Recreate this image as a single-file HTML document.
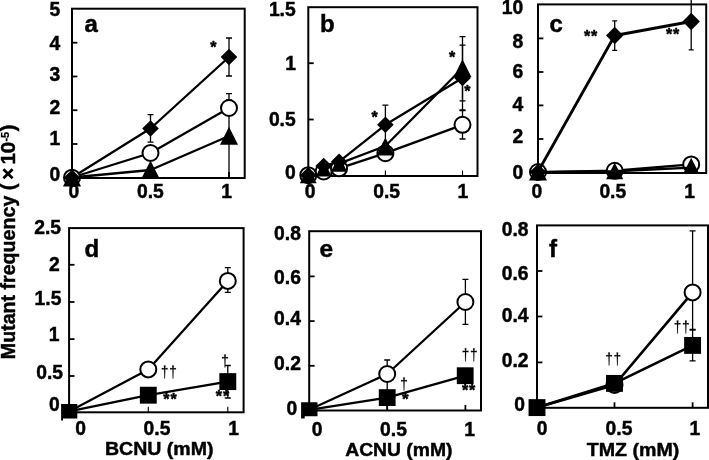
<!DOCTYPE html>
<html><head><meta charset="utf-8"><title>Mutant frequency</title>
<style>
html,body{margin:0;padding:0;background:#fff;}
body{width:709px;height:460px;overflow:hidden;font-family:"Liberation Sans",sans-serif;}
svg{display:block;transform:translateZ(0);will-change:transform;}
svg text{font-family:"Liberation Sans",sans-serif;fill:#000;}
</style></head><body>
<svg width="709" height="460" viewBox="0 0 709 460">
<rect width="709" height="460" fill="#fff"/>
<rect x="72" y="8.7" width="172.7" height="169.3" fill="none" stroke="#000" stroke-width="2"/>
<line x1="72" y1="42.7" x2="77.4" y2="42.7" stroke="#000" stroke-width="1.8"/>
<line x1="72" y1="76.5" x2="77.4" y2="76.5" stroke="#000" stroke-width="1.8"/>
<line x1="72" y1="110.2" x2="77.4" y2="110.2" stroke="#000" stroke-width="1.8"/>
<line x1="72" y1="144" x2="77.4" y2="144" stroke="#000" stroke-width="1.8"/>
<line x1="150.5" y1="178" x2="150.5" y2="172" stroke="#000" stroke-width="1.8"/>
<line x1="229" y1="178" x2="229" y2="172" stroke="#000" stroke-width="1.8"/>
<path d="M150.5 114.6V142.2M147.5 114.6H153.5M147.5 142.2H153.5" stroke="#000" stroke-width="1.3" fill="none"/>
<path d="M229 38V76M226.0 38H232.0M226.0 76H232.0" stroke="#000" stroke-width="1.3" fill="none"/>
<path d="M229 93.7V100M226.0 93.7H232.0M226.0 100H232.0" stroke="#000" stroke-width="1.3" fill="none"/>
<path d="M229 100V178" stroke="#000" stroke-width="1.3"/>
<polyline points="72,177.5 150.5,128.5 229,57" fill="none" stroke="#000" stroke-width="2.3" stroke-linejoin="round"/>
<polyline points="72,177.5 150.5,153 229,108" fill="none" stroke="#000" stroke-width="2.3" stroke-linejoin="round"/>
<polyline points="72,177.5 150.5,170 229,136" fill="none" stroke="#000" stroke-width="2.3" stroke-linejoin="round"/>
<circle cx="72" cy="177.7" r="8.0" fill="#fff" stroke="#000" stroke-width="2"/>
<path d="M72 169.4L81.1 186.6L62.9 186.6Z" fill="#000"/>
<path d="M72 169.39999999999998L80.3 177.7L72 186.0L63.7 177.7Z" fill="#000"/>
<path d="M150.5 160.60000000000002L159.8 179.0L141.2 179.0Z" fill="#000"/>
<circle cx="150.5" cy="153" r="8.0" fill="#fff" stroke="#000" stroke-width="2"/>
<path d="M150.5 120.2L158.8 128.5L150.5 136.8L142.2 128.5Z" fill="#000"/>
<path d="M229 126.69999999999999L238 144.7L220 144.7Z" fill="#000"/>
<circle cx="229" cy="108" r="8.0" fill="#fff" stroke="#000" stroke-width="2"/>
<path d="M229 48.7L237.3 57L229 65.3L220.7 57Z" fill="#000"/>
<text x="60.2" y="16.3" font-size="19.3" text-anchor="end" font-weight="bold" stroke="#000" stroke-width="0.45" >5</text>
<text x="60.2" y="50" font-size="19.3" text-anchor="end" font-weight="bold" stroke="#000" stroke-width="0.45" >4</text>
<text x="60.2" y="81" font-size="19.3" text-anchor="end" font-weight="bold" stroke="#000" stroke-width="0.45" >3</text>
<text x="60.2" y="114.2" font-size="19.3" text-anchor="end" font-weight="bold" stroke="#000" stroke-width="0.45" >2</text>
<text x="60.2" y="145.2" font-size="19.3" text-anchor="end" font-weight="bold" stroke="#000" stroke-width="0.45" >1</text>
<text x="60.2" y="180.6" font-size="19.3" text-anchor="end" font-weight="bold" stroke="#000" stroke-width="0.45" >0</text>
<text x="73.8" y="197.9" font-size="19.3" text-anchor="middle" font-weight="bold" stroke="#000" stroke-width="0.45" >0</text>
<text x="150.4" y="197.9" font-size="19.3" text-anchor="middle" font-weight="bold" stroke="#000" stroke-width="0.45" >0.5</text>
<text x="226.5" y="197.9" font-size="19.3" text-anchor="middle" font-weight="bold" stroke="#000" stroke-width="0.45" >1</text>
<text x="84.5" y="32" font-size="24" text-anchor="start" font-weight="bold" stroke="#000" stroke-width="0.45" >a</text>
<text x="213.3" y="53" font-size="16" text-anchor="middle" font-weight="bold" stroke="#000" stroke-width="0.45" >*</text>
<rect x="308.3" y="7.2" width="169.2" height="168.8" fill="none" stroke="#000" stroke-width="2"/>
<line x1="308.3" y1="63.2" x2="313.7" y2="63.2" stroke="#000" stroke-width="1.8"/>
<line x1="308.3" y1="119.5" x2="313.7" y2="119.5" stroke="#000" stroke-width="1.8"/>
<line x1="385.4" y1="176" x2="385.4" y2="170.5" stroke="#000" stroke-width="1.1"/>
<line x1="462.5" y1="176" x2="462.5" y2="170.5" stroke="#000" stroke-width="1.1"/>
<path d="M385.4 105.2V144M382.4 105.2H388.4M382.4 144H388.4" stroke="#000" stroke-width="1.3" fill="none"/>
<path d="M462.5 36.6V100.8M459.5 36.6H465.5M459.5 100.8H465.5" stroke="#000" stroke-width="1.3" fill="none"/>
<path d="M462.5 45.2V110M459.5 45.2H465.5M459.5 110H465.5" stroke="#000" stroke-width="1.3" fill="none"/>
<path d="M462.5 110.6V139M459.5 110.6H465.5M459.5 139H465.5" stroke="#000" stroke-width="1.3" fill="none"/>
<polyline points="308.3,175 323.7,166 339.1,161.7 385.4,124.8 462.5,78" fill="none" stroke="#000" stroke-width="2.3" stroke-linejoin="round"/>
<polyline points="308.3,175 323.7,171.5 339.1,168.3 385.4,153.2 462.5,124.8" fill="none" stroke="#000" stroke-width="2.3" stroke-linejoin="round"/>
<polyline points="308.3,175 323.7,168.6 339.1,163.6 385.4,146 462.5,68" fill="none" stroke="#000" stroke-width="2.3" stroke-linejoin="round"/>
<circle cx="308.3" cy="175.2" r="8.0" fill="#fff" stroke="#000" stroke-width="2"/>
<path d="M308.3 166.8L316.7 183.2L299.90000000000003 183.2Z" fill="#000"/>
<path d="M308.3 166.89999999999998L316.6 175.2L308.3 183.5L300.0 175.2Z" fill="#000"/>
<circle cx="323.7" cy="171.5" r="8.0" fill="#fff" stroke="#000" stroke-width="2"/>
<path d="M323.7 160.6L331.7 176.6L315.7 176.6Z" fill="#000"/>
<path d="M323.7 157.7L332.0 166L323.7 174.3L315.4 166Z" fill="#000"/>
<circle cx="339.1" cy="168.3" r="8.0" fill="#fff" stroke="#000" stroke-width="2"/>
<path d="M339.1 155.4L347.3 171.79999999999998L330.90000000000003 171.79999999999998Z" fill="#000"/>
<path d="M339.1 153.39999999999998L347.40000000000003 161.7L339.1 170.0L330.8 161.7Z" fill="#000"/>
<circle cx="385.4" cy="153.2" r="8.0" fill="#fff" stroke="#000" stroke-width="2"/>
<path d="M385.4 137.5L394.4 155.5L376.4 155.5Z" fill="#000"/>
<path d="M385.4 116.5L393.7 124.8L385.4 133.1L377.09999999999997 124.8Z" fill="#000"/>
<circle cx="462.5" cy="124.8" r="8.0" fill="#fff" stroke="#000" stroke-width="2"/>
<path d="M462.5 59.3L471.5 77.3L453.5 77.3Z" fill="#000"/>
<path d="M462.5 69.7L470.8 78L462.5 86.3L454.2 78Z" fill="#000"/>
<text x="295.7" y="15.6" font-size="19.3" text-anchor="end" font-weight="bold" stroke="#000" stroke-width="0.45" >1.5</text>
<text x="296" y="70.2" font-size="19.3" text-anchor="end" font-weight="bold" stroke="#000" stroke-width="0.45" >1</text>
<text x="295.7" y="125.6" font-size="19.3" text-anchor="end" font-weight="bold" stroke="#000" stroke-width="0.45" >0.5</text>
<text x="295.7" y="178.6" font-size="19.3" text-anchor="end" font-weight="bold" stroke="#000" stroke-width="0.45" >0</text>
<text x="310" y="197.7" font-size="19.3" text-anchor="middle" font-weight="bold" stroke="#000" stroke-width="0.45" >0</text>
<text x="386.7" y="197.7" font-size="19.3" text-anchor="middle" font-weight="bold" stroke="#000" stroke-width="0.45" >0.5</text>
<text x="462.8" y="197.7" font-size="19.3" text-anchor="middle" font-weight="bold" stroke="#000" stroke-width="0.45" >1</text>
<text x="320" y="32.2" font-size="24" text-anchor="start" font-weight="bold" stroke="#000" stroke-width="0.45" >b</text>
<text x="374.6" y="123" font-size="16" text-anchor="middle" font-weight="bold" stroke="#000" stroke-width="0.45" >*</text>
<text x="452.2" y="63" font-size="16" text-anchor="middle" font-weight="bold" stroke="#000" stroke-width="0.45" >*</text>
<text x="467.3" y="97" font-size="16" text-anchor="middle" font-weight="bold" stroke="#000" stroke-width="0.45" >*</text>
<line x1="538" y1="38.4" x2="543.4" y2="38.4" stroke="#000" stroke-width="1.8"/>
<line x1="538" y1="72" x2="543.4" y2="72" stroke="#000" stroke-width="1.8"/>
<line x1="538" y1="105.4" x2="543.4" y2="105.4" stroke="#000" stroke-width="1.8"/>
<line x1="538" y1="139" x2="543.4" y2="139" stroke="#000" stroke-width="1.8"/>
<line x1="614.7" y1="173" x2="614.7" y2="167" stroke="#000" stroke-width="1.8"/>
<line x1="691.2" y1="173" x2="691.2" y2="167" stroke="#000" stroke-width="1.8"/>
<path d="M614.7 20.8V50.4M612.2 20.8H617.2M612.2 50.4H617.2" stroke="#000" stroke-width="1.3" fill="none"/>
<path d="M691.2 -3V49.8M688.7 -3H693.7M688.7 49.8H693.7" stroke="#000" stroke-width="1.3" fill="none"/>
<polyline points="538,172.2 614.7,170.8 691.2,164.4" fill="none" stroke="#000" stroke-width="2.4" stroke-linejoin="round"/>
<circle cx="538" cy="172" r="8.0" fill="#fff" stroke="#000" stroke-width="2"/>
<circle cx="614.7" cy="170.8" r="8.0" fill="#fff" stroke="#000" stroke-width="2"/>
<circle cx="691.2" cy="164.4" r="8.0" fill="#fff" stroke="#000" stroke-width="2"/>
<rect x="538" y="4.4" width="168.20000000000005" height="168.6" fill="none" stroke="#000" stroke-width="2"/>
<polyline points="538,172.2 614.7,171.2 691.2,167.6" fill="none" stroke="#000" stroke-width="2.4" stroke-linejoin="round"/>
<path d="M538 163.5L547 180.5L529 180.5Z" fill="#000"/>
<path d="M614.7 162.7L623.3000000000001 179.3L606.1 179.3Z" fill="#000"/>
<path d="M691.2 157.8L698.8000000000001 173.0L683.6 173.0Z" fill="#000"/>
<polyline points="538,171.8 614.7,35.5 691.2,21.5" fill="none" stroke="#000" stroke-width="2.8" stroke-linejoin="round"/>
<path d="M538 163.7L546.3 172L538 180.3L529.7 172Z" fill="#000"/>
<path d="M614.7 26.8L623.4000000000001 35.5L614.7 44.2L606.0 35.5Z" fill="#000"/>
<path d="M691.2 12.8L699.9000000000001 21.5L691.2 30.2L682.5 21.5Z" fill="#000"/>
<text x="523.3" y="13.6" font-size="19.3" text-anchor="end" font-weight="bold" stroke="#000" stroke-width="0.45" >10</text>
<text x="523.3" y="47.5" font-size="19.3" text-anchor="end" font-weight="bold" stroke="#000" stroke-width="0.45" >8</text>
<text x="523.3" y="78.2" font-size="19.3" text-anchor="end" font-weight="bold" stroke="#000" stroke-width="0.45" >6</text>
<text x="523.3" y="111.2" font-size="19.3" text-anchor="end" font-weight="bold" stroke="#000" stroke-width="0.45" >4</text>
<text x="523.3" y="143.2" font-size="19.3" text-anchor="end" font-weight="bold" stroke="#000" stroke-width="0.45" >2</text>
<text x="523.3" y="178.5" font-size="19.3" text-anchor="end" font-weight="bold" stroke="#000" stroke-width="0.45" >0</text>
<text x="536.8" y="197.6" font-size="19.3" text-anchor="middle" font-weight="bold" stroke="#000" stroke-width="0.45" >0</text>
<text x="612.8" y="197.6" font-size="19.3" text-anchor="middle" font-weight="bold" stroke="#000" stroke-width="0.45" >0.5</text>
<text x="689.5" y="197.6" font-size="19.3" text-anchor="middle" font-weight="bold" stroke="#000" stroke-width="0.45" >1</text>
<text x="549.5" y="32" font-size="24" text-anchor="start" font-weight="bold" stroke="#000" stroke-width="0.45" >c</text>
<text x="591.1" y="41.9" font-size="16" text-anchor="middle" font-weight="bold" stroke="#000" stroke-width="0.45" letter-spacing="0.8">**</text>
<text x="673.1" y="40.2" font-size="16" text-anchor="middle" font-weight="bold" stroke="#000" stroke-width="0.45" letter-spacing="0.8">**</text>
<rect x="69.1" y="228.1" width="174.5" height="184.20000000000002" fill="none" stroke="#000" stroke-width="2"/>
<line x1="69.1" y1="264.8" x2="74.5" y2="264.8" stroke="#000" stroke-width="1.8"/>
<line x1="69.1" y1="302" x2="74.5" y2="302" stroke="#000" stroke-width="1.8"/>
<line x1="69.1" y1="339.1" x2="74.5" y2="339.1" stroke="#000" stroke-width="1.8"/>
<line x1="69.1" y1="376" x2="74.5" y2="376" stroke="#000" stroke-width="1.8"/>
<line x1="148.3" y1="412.3" x2="148.3" y2="406.8" stroke="#000" stroke-width="1.1"/>
<line x1="227.8" y1="412.3" x2="227.8" y2="406.8" stroke="#000" stroke-width="1.1"/>
<path d="M227.8 267.7V292.3M224.8 267.7H230.8M224.8 292.3H230.8" stroke="#000" stroke-width="1.3" fill="none"/>
<path d="M227.8 365.5V398M224.8 365.5H230.8M224.8 398H230.8" stroke="#000" stroke-width="1.3" fill="none"/>
<polyline points="69.1,411.4 148.3,369.4 227.8,280.9" fill="none" stroke="#000" stroke-width="2.3" stroke-linejoin="round"/>
<polyline points="69.1,411.4 148.3,395.2 227.8,381.6" fill="none" stroke="#000" stroke-width="2.3" stroke-linejoin="round"/>
<circle cx="148.3" cy="369.4" r="8.0" fill="#fff" stroke="#000" stroke-width="2"/>
<circle cx="227.8" cy="280.9" r="8.0" fill="#fff" stroke="#000" stroke-width="2"/>
<path d="M61.1 404.1H77.3V418.5H63V420.6H61.1Z" fill="#000"/>
<rect x="139.85000000000002" y="386.75" width="16.9" height="16.9" fill="#000"/>
<rect x="219.35000000000002" y="373.15000000000003" width="16.9" height="16.9" fill="#000"/>
<text x="61" y="233.6" font-size="19.3" text-anchor="end" font-weight="bold" stroke="#000" stroke-width="0.45" >2.5</text>
<text x="59.8" y="271" font-size="19.3" text-anchor="end" font-weight="bold" stroke="#000" stroke-width="0.45" >2</text>
<text x="61.4" y="304.6" font-size="19.3" text-anchor="end" font-weight="bold" stroke="#000" stroke-width="0.45" >1.5</text>
<text x="59.5" y="340.6" font-size="19.3" text-anchor="end" font-weight="bold" stroke="#000" stroke-width="0.45" >1</text>
<text x="63" y="379.2" font-size="19.3" text-anchor="end" font-weight="bold" stroke="#000" stroke-width="0.45" >0.5</text>
<text x="59.8" y="411.4" font-size="19.3" text-anchor="end" font-weight="bold" stroke="#000" stroke-width="0.45" >0</text>
<text x="80.6" y="435.2" font-size="19.3" text-anchor="middle" font-weight="bold" stroke="#000" stroke-width="0.45" >0</text>
<text x="157" y="435.2" font-size="19.3" text-anchor="middle" font-weight="bold" stroke="#000" stroke-width="0.45" >0.5</text>
<text x="233.5" y="435.2" font-size="19.3" text-anchor="middle" font-weight="bold" stroke="#000" stroke-width="0.45" >1</text>
<text x="84.4" y="256.8" font-size="24" text-anchor="start" font-weight="bold" stroke="#000" stroke-width="0.45" >d</text>
<text x="105" y="455" font-size="19" text-anchor="start" font-weight="bold" stroke="#000" stroke-width="0.45" textLength="108.5" lengthAdjust="spacingAndGlyphs">BCNU (mM)</text>
<path d="M163.85 365.4L165.54999999999998 365.4L165.29999999999998 368.2L167.6 367.95L167.6 369.45L165.29999999999998 369.2L165.0 378.6L164.39999999999998 378.6L164.1 369.2L161.79999999999998 369.45L161.79999999999998 367.95L164.1 368.2Z" fill="#000" stroke="#000" stroke-width="0.15"/>
<path d="M172.15 365.4L173.85 365.4L173.6 368.2L175.9 367.95L175.9 369.45L173.6 369.2L173.3 378.6L172.7 378.6L172.4 369.2L170.1 369.45L170.1 367.95L172.4 368.2Z" fill="#000" stroke="#000" stroke-width="0.15"/>
<text x="170.4" y="404.6" font-size="16" text-anchor="middle" font-weight="bold" stroke="#000" stroke-width="0.45" letter-spacing="0.8">**</text>
<path d="M224.15 354.4L225.85 354.4L225.6 357.2L227.9 356.95L227.9 358.45L225.6 358.2L225.3 367.6L224.7 367.6L224.4 358.2L222.1 358.45L222.1 356.95L224.4 357.2Z" fill="#000" stroke="#000" stroke-width="0.15"/>
<text x="222.9" y="401.6" font-size="16" text-anchor="middle" font-weight="bold" stroke="#000" stroke-width="0.45" letter-spacing="0.8">**</text>
<rect x="309.2" y="231.2" width="171.8" height="179.3" fill="none" stroke="#000" stroke-width="2"/>
<line x1="309.2" y1="276.4" x2="314.59999999999997" y2="276.4" stroke="#000" stroke-width="1.8"/>
<line x1="309.2" y1="321.1" x2="314.59999999999997" y2="321.1" stroke="#000" stroke-width="1.8"/>
<line x1="309.2" y1="365.8" x2="314.59999999999997" y2="365.8" stroke="#000" stroke-width="1.8"/>
<line x1="387.2" y1="410.5" x2="387.2" y2="405.0" stroke="#000" stroke-width="1.8"/>
<line x1="465.4" y1="410.5" x2="465.4" y2="405.0" stroke="#000" stroke-width="1.8"/>
<path d="M387.2 360V374M384.2 360H390.2M384.2 374H390.2" stroke="#000" stroke-width="1.3" fill="none"/>
<path d="M465.4 279.3V324.4M462.4 279.3H468.4M462.4 324.4H468.4" stroke="#000" stroke-width="1.3" fill="none"/>
<path d="M387.2 374V410" stroke="#000" stroke-width="1.3"/>
<polyline points="309.2,409.8 387.2,374 465.4,302" fill="none" stroke="#000" stroke-width="2.3" stroke-linejoin="round"/>
<polyline points="309.2,409.8 387.2,397.6 465.4,375.6" fill="none" stroke="#000" stroke-width="2.3" stroke-linejoin="round"/>
<circle cx="387.2" cy="374" r="8.0" fill="#fff" stroke="#000" stroke-width="2"/>
<circle cx="465.4" cy="302" r="8.0" fill="#fff" stroke="#000" stroke-width="2"/>
<path d="M301.1 402.3H317.5V416.3H304.7V418.5H301.1Z" fill="#000"/>
<rect x="378.8" y="389.20000000000005" width="16.8" height="16.8" fill="#000"/>
<rect x="456.8" y="367.3" width="16.8" height="16.8" fill="#000"/>
<text x="300.9" y="239.5" font-size="19.3" text-anchor="end" font-weight="bold" stroke="#000" stroke-width="0.45" >0.8</text>
<text x="300.9" y="284.3" font-size="19.3" text-anchor="end" font-weight="bold" stroke="#000" stroke-width="0.45" >0.6</text>
<text x="300.9" y="325.3" font-size="19.3" text-anchor="end" font-weight="bold" stroke="#000" stroke-width="0.45" >0.4</text>
<text x="300.9" y="370.4" font-size="19.3" text-anchor="end" font-weight="bold" stroke="#000" stroke-width="0.45" >0.2</text>
<text x="297.3" y="414.6" font-size="19.3" text-anchor="end" font-weight="bold" stroke="#000" stroke-width="0.45" >0</text>
<text x="317" y="435.8" font-size="19.3" text-anchor="middle" font-weight="bold" stroke="#000" stroke-width="0.45" >0</text>
<text x="393.5" y="435.8" font-size="19.3" text-anchor="middle" font-weight="bold" stroke="#000" stroke-width="0.45" >0.5</text>
<text x="469.6" y="435.8" font-size="19.3" text-anchor="middle" font-weight="bold" stroke="#000" stroke-width="0.45" >1</text>
<text x="319.6" y="257" font-size="24.5" text-anchor="start" font-weight="bold" stroke="#000" stroke-width="0.45" >e</text>
<text x="345.2" y="455.5" font-size="19" text-anchor="start" font-weight="bold" stroke="#000" stroke-width="0.45" textLength="107.3" lengthAdjust="spacingAndGlyphs">ACNU (mM)</text>
<path d="M464.7 348.2L466.40000000000003 348.2L466.15000000000003 351.0L468.45 350.75L468.45 352.25L466.15000000000003 352.0L465.85 361.40000000000003L465.25 361.40000000000003L464.95 352.0L462.65000000000003 352.25L462.65000000000003 350.75L464.95 351.0Z" fill="#000" stroke="#000" stroke-width="0.15"/>
<path d="M472.99999999999994 348.2L474.7 348.2L474.45 351.0L476.74999999999994 350.75L476.74999999999994 352.25L474.45 352.0L474.15 361.40000000000003L473.54999999999995 361.40000000000003L473.24999999999994 352.0L470.95 352.25L470.95 350.75L473.24999999999994 351.0Z" fill="#000" stroke="#000" stroke-width="0.15"/>
<text x="469" y="395.8" font-size="16" text-anchor="middle" font-weight="bold" stroke="#000" stroke-width="0.45" letter-spacing="0.8">**</text>
<path d="M403.15 377.4L404.85 377.4L404.6 380.2L406.9 379.95L406.9 381.45L404.6 381.2L404.3 390.6L403.7 390.6L403.4 381.2L401.1 381.45L401.1 379.95L403.4 380.2Z" fill="#000" stroke="#000" stroke-width="0.15"/>
<text x="405.2" y="404.8" font-size="17" text-anchor="middle" font-weight="bold" stroke="#000" stroke-width="0.45" >*</text>
<rect x="537" y="225.4" width="171" height="182.4" fill="none" stroke="#000" stroke-width="2"/>
<line x1="537" y1="271" x2="542.4" y2="271" stroke="#000" stroke-width="1.8"/>
<line x1="537" y1="316.5" x2="542.4" y2="316.5" stroke="#000" stroke-width="1.8"/>
<line x1="537" y1="362.4" x2="542.4" y2="362.4" stroke="#000" stroke-width="1.8"/>
<line x1="614.5" y1="407.8" x2="614.5" y2="402.3" stroke="#000" stroke-width="1.8"/>
<line x1="692.6" y1="407.8" x2="692.6" y2="402.3" stroke="#000" stroke-width="1.8"/>
<path d="M692.6 230.9V330M689.6 230.9H695.6M689.6 330H695.6" stroke="#000" stroke-width="1.3" fill="none"/>
<path d="M692.6 329.3V360.8M689.6 329.3H695.6M689.6 360.8H695.6" stroke="#000" stroke-width="1.3" fill="none"/>
<polyline points="537,407.5 614.5,385 692.6,292.4" fill="none" stroke="#000" stroke-width="2.7" stroke-linejoin="round"/>
<polyline points="537,407.5 614.5,383.4 692.6,345.4" fill="none" stroke="#000" stroke-width="2.7" stroke-linejoin="round"/>
<circle cx="614.5" cy="385" r="8.0" fill="#fff" stroke="#000" stroke-width="2"/>
<circle cx="692.6" cy="292.4" r="8.0" fill="#fff" stroke="#000" stroke-width="2"/>
<rect x="528.55" y="399.15000000000003" width="16.9" height="16.9" fill="#000"/>
<rect x="606.05" y="374.95" width="16.9" height="16.9" fill="#000"/>
<rect x="684.15" y="336.95" width="16.9" height="16.9" fill="#000"/>
<text x="528.6" y="236" font-size="19.3" text-anchor="end" font-weight="bold" stroke="#000" stroke-width="0.45" >0.8</text>
<text x="528.6" y="280" font-size="19.3" text-anchor="end" font-weight="bold" stroke="#000" stroke-width="0.45" >0.6</text>
<text x="528.6" y="321.6" font-size="19.3" text-anchor="end" font-weight="bold" stroke="#000" stroke-width="0.45" >0.4</text>
<text x="528.6" y="367" font-size="19.3" text-anchor="end" font-weight="bold" stroke="#000" stroke-width="0.45" >0.2</text>
<text x="525" y="411" font-size="19.3" text-anchor="end" font-weight="bold" stroke="#000" stroke-width="0.45" >0</text>
<text x="542.2" y="434.5" font-size="19.3" text-anchor="middle" font-weight="bold" stroke="#000" stroke-width="0.45" >0</text>
<text x="619" y="434.5" font-size="19.3" text-anchor="middle" font-weight="bold" stroke="#000" stroke-width="0.45" >0.5</text>
<text x="694.8" y="434.5" font-size="19.3" text-anchor="middle" font-weight="bold" stroke="#000" stroke-width="0.45" >1</text>
<text x="549" y="257" font-size="24" text-anchor="start" font-weight="bold" stroke="#000" stroke-width="0.45" >f</text>
<text x="586.8" y="455.5" font-size="19" text-anchor="start" font-weight="bold" stroke="#000" stroke-width="0.45" textLength="92.6" lengthAdjust="spacingAndGlyphs">TMZ (mM)</text>
<path d="M608.2 352.4L609.9000000000001 352.4L609.6500000000001 355.2L611.95 354.95L611.95 356.45L609.6500000000001 356.2L609.35 365.6L608.7500000000001 365.6L608.45 356.2L606.1500000000001 356.45L606.1500000000001 354.95L608.45 355.2Z" fill="#000" stroke="#000" stroke-width="0.15"/>
<path d="M616.5 352.4L618.2 352.4L617.95 355.2L620.25 354.95L620.25 356.45L617.95 356.2L617.65 365.6L617.0500000000001 365.6L616.75 356.2L614.45 356.45L614.45 354.95L616.75 355.2Z" fill="#000" stroke="#000" stroke-width="0.15"/>
<path d="M676.7 320.4L678.4000000000001 320.4L678.1500000000001 323.2L680.45 322.95L680.45 324.45L678.1500000000001 324.2L677.85 333.6L677.2500000000001 333.6L676.95 324.2L674.6500000000001 324.45L674.6500000000001 322.95L676.95 323.2Z" fill="#000" stroke="#000" stroke-width="0.15"/>
<path d="M685.0 320.4L686.7 320.4L686.45 323.2L688.75 322.95L688.75 324.45L686.45 324.2L686.15 333.6L685.5500000000001 333.6L685.25 324.2L682.95 324.45L682.95 322.95L685.25 323.2Z" fill="#000" stroke="#000" stroke-width="0.15"/>
<text transform="translate(15.3,359.2) rotate(-90)" font-size="20" font-weight="bold" stroke="#000" stroke-width="0.45" textLength="163.5" lengthAdjust="spacingAndGlyphs">Mutant frequency</text>
<text transform="translate(15.3,190.2) rotate(-90)" font-size="20" font-weight="bold" stroke="#000" stroke-width="0.45">(</text>
<path d="M3.4 169.2L12.6 178.2M12.6 169.2L3.4 178.2" stroke="#000" stroke-width="2.7" fill="none"/>
<text transform="translate(15.3,164.4) rotate(-90)" font-size="20" font-weight="bold" stroke="#000" stroke-width="0.45" textLength="22.5" lengthAdjust="spacingAndGlyphs">10</text>
<text transform="translate(8.7,141.6) rotate(-90)" font-size="11" font-weight="bold" stroke="#000" stroke-width="0.3">-5</text>
<text transform="translate(15.3,131.2) rotate(-90)" font-size="20" font-weight="bold" stroke="#000" stroke-width="0.45">)</text>
</svg>
</body></html>
